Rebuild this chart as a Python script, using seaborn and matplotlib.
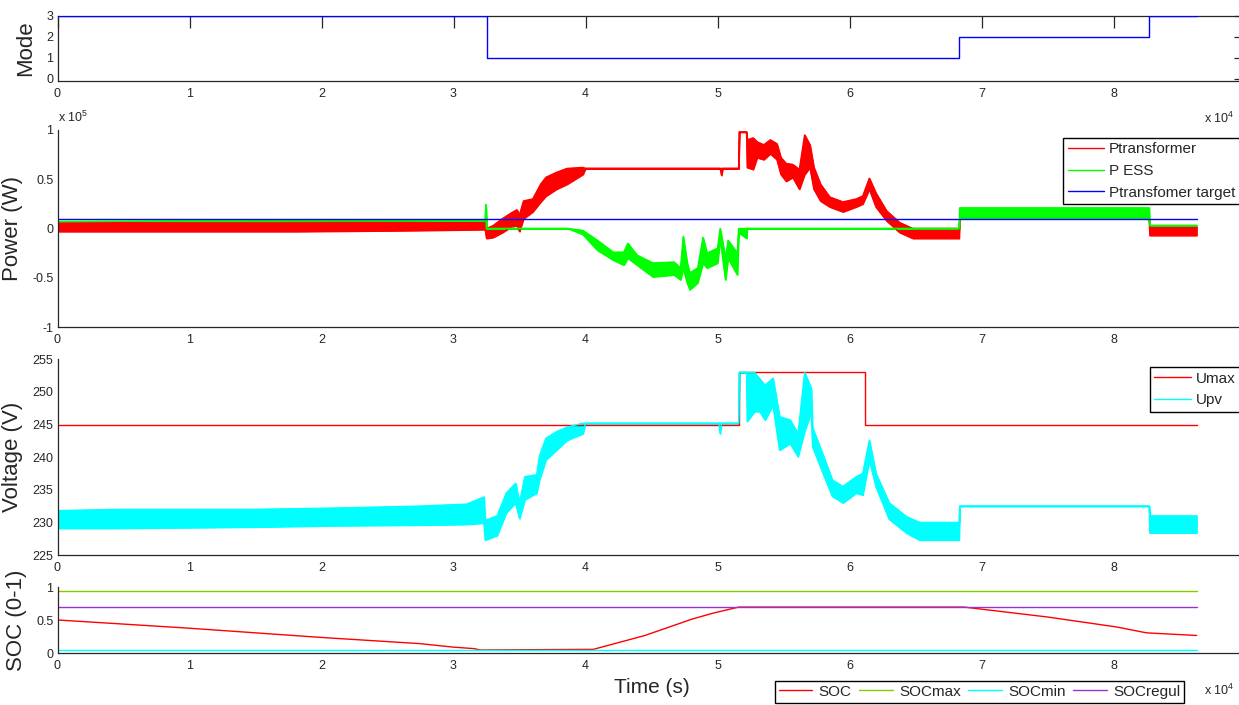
import matplotlib
matplotlib.use("Agg")
import matplotlib.pyplot as plt
import seaborn as sns

# time axis is in units of 1e4 s
mode_t = [0, 3.25, 3.25, 6.83, 6.83, 8.27, 8.27, 8.63]
mode_val = [3, 3, 1, 1, 2, 2, 3, 3]

# powers in units of 1e5 W, noisy signals given as lower/upper envelope
ptr_t = [0.00, 0.82, 1.82, 2.70, 3.24, 3.25, 3.30, 3.37, 3.44, 3.48, 3.50, 3.53,
         3.60, 3.66, 3.70, 3.78, 3.86, 3.98, 4.00, 5.02, 5.03, 5.04, 5.16, 5.165,
         5.22, 5.225, 5.27, 5.30, 5.35, 5.40, 5.45, 5.48, 5.52, 5.57, 5.62, 5.66,
         5.70, 5.73, 5.78, 5.85, 5.95, 6.05, 6.10, 6.15, 6.20, 6.28, 6.38, 6.48,
         6.83, 6.835, 8.27, 8.275, 8.63]
ptr_lo = [-0.03, -0.03, -0.03, -0.02, -0.01, -0.10, -0.09, -0.04, 0.02, 0.03, -0.03, 0.10,
          0.17, 0.27, 0.33, 0.40, 0.45, 0.55, 0.61, 0.61, 0.54, 0.61, 0.61, 0.98,
          0.98, 0.62, 0.60, 0.72, 0.70, 0.76, 0.70, 0.55, 0.48, 0.52, 0.40, 0.55,
          0.62, 0.40, 0.28, 0.22, 0.17, 0.22, 0.25, 0.40, 0.22, 0.08, -0.04, -0.10,
          -0.10, 0.10, 0.10, -0.07, -0.07]
ptr_hi = [0.06, 0.065, 0.07, 0.08, 0.09, 0.00, 0.03, 0.10, 0.16, 0.19, 0.14, 0.28,
          0.30, 0.45, 0.52, 0.57, 0.61, 0.62, 0.61, 0.61, 0.61, 0.61, 0.61, 0.98,
          0.98, 0.90, 0.92, 0.88, 0.85, 0.90, 0.86, 0.72, 0.66, 0.65, 0.60, 0.95,
          0.85, 0.62, 0.45, 0.32, 0.27, 0.30, 0.33, 0.51, 0.36, 0.18, 0.06, 0.00,
          0.00, 0.10, 0.10, 0.03, 0.03]

pess_t = [0.00, 0.82, 3.24, 3.245, 3.25, 3.87, 3.98, 4.09, 4.21, 4.29, 4.32, 4.39,
          4.51, 4.67, 4.72, 4.74, 4.77, 4.79, 4.85, 4.89, 4.92, 5.00, 5.02, 5.06,
          5.08, 5.15, 5.16, 5.22, 5.225, 6.83, 6.835, 8.27, 8.275, 8.63]
pess_lo = [0.07, 0.075, 0.08, 0.24, 0.00, 0.00, -0.06, -0.22, -0.32, -0.37, -0.30, -0.37,
           -0.49, -0.47, -0.52, -0.40, -0.55, -0.62, -0.55, -0.35, -0.40, -0.35, -0.10, -0.52,
           -0.30, -0.47, -0.04, -0.10, 0.00, 0.00, 0.10, 0.10, 0.03, 0.03]
pess_hi = [0.07, 0.075, 0.08, 0.24, 0.00, 0.00, -0.02, -0.12, -0.24, -0.24, -0.15, -0.27,
           -0.35, -0.34, -0.40, -0.08, -0.35, -0.45, -0.40, -0.09, -0.25, -0.20, 0.00, -0.30,
           -0.12, -0.25, 0.00, 0.00, 0.00, 0.00, 0.21, 0.21, 0.03, 0.03]

ptarget_t = [0, 8.63]
ptarget = [0.10, 0.10]

# voltages in V
umax_t = [0, 5.16, 5.16, 6.12, 6.12, 8.63]
umax = [245, 245, 253, 253, 245, 245]

upv_t = [0.00, 0.45, 1.50, 2.10, 2.75, 3.10, 3.23, 3.24, 3.33, 3.40, 3.47, 3.50, 3.54,
         3.63, 3.65, 3.70, 3.78, 3.86, 3.98, 4.00, 5.01, 5.02, 5.03, 5.16, 5.165,
         5.22, 5.225, 5.28, 5.32, 5.36, 5.42, 5.47, 5.55, 5.61, 5.66, 5.71, 5.72,
         5.80, 5.87, 5.95, 6.05, 6.10, 6.15, 6.20, 6.30, 6.43, 6.53, 6.83, 6.835,
         8.27, 8.275, 8.63]
upv_lo = [229.1, 229.1, 229.3, 229.5, 229.6, 229.7, 229.9, 227.3, 228.0, 231.5, 233.0, 230.6, 233.5,
          234.5, 236.5, 239.6, 241.1, 242.6, 243.6, 245.2, 245.2, 243.6, 245.2, 245.2, 253.0,
          253.0, 245.5, 247.0, 247.0, 245.7, 248.0, 241.1, 242.1, 240.1, 244.0, 246.9, 241.6,
          237.5, 234.0, 233.0, 234.5, 234.2, 239.6, 235.5, 230.5, 228.4, 227.3, 227.3, 232.5,
          232.5, 228.4, 228.4]
upv_hi = [231.8, 232.0, 232.0, 232.2, 232.5, 232.8, 233.9, 230.3, 231.0, 234.5, 236.0, 233.0, 237.0,
          237.3, 240.1, 242.9, 243.9, 244.6, 245.2, 245.2, 245.2, 245.2, 245.2, 245.2, 253.0,
          253.0, 253.0, 253.0, 252.0, 251.0, 252.1, 246.2, 245.7, 243.6, 253.0, 250.5, 244.5,
          240.3, 236.5, 235.5, 237.0, 237.5, 242.6, 237.5, 233.0, 230.9, 230.0, 230.0, 232.5,
          232.5, 231.0, 231.0]

# state of charge (0-1)
soc_t = [0, 1.0, 2.0, 2.75, 2.99, 3.16, 3.20, 4.06, 4.45, 4.81, 4.97, 5.16,
         6.87, 7.50, 8.02, 8.25, 8.63]
soc = [0.505, 0.38, 0.24, 0.146, 0.095, 0.07, 0.05, 0.06, 0.27, 0.52, 0.61, 0.70,
       0.70, 0.55, 0.40, 0.31, 0.27]
soc_lim_t = [0, 8.63]
soc_max = [0.95, 0.95]
soc_min = [0.05, 0.05]
soc_regul = [0.70, 0.70]

sns.set_theme(style="white")
plt.rcParams["font.family"] = ["Liberation Sans", "DejaVu Sans"]
plt.rcParams["mathtext.default"] = "regular"

INK = "#262626"
fig = plt.figure(figsize=(12.39, 7.05), dpi=100)


def add_panel(top_px, bottom_px):
    return fig.add_axes([57.5 / 1239, 1 - bottom_px / 705, 1188 / 1239,
                         (bottom_px - top_px) / 705])


def style(ax, box=False):
    ax.set_xlim(0, 9)
    ax.set_xticks(range(0, 9))
    for s in ax.spines.values():
        s.set_color(INK)
        s.set_linewidth(0.9)
    ax.tick_params(direction="in", length=8.5, width=0.9, labelsize=9,
                   colors=INK, top=box, right=box)
    ax.tick_params(axis="x", pad=5)
    ax.tick_params(axis="y", pad=3)
    if not box:
        sns.despine(ax=ax)


def line(ax, t, y, color, label=None, lw=1.0, z=2):
    sns.lineplot(x=t, y=y, ax=ax, color=color, lw=lw, estimator=None,
                 sort=False, label=label, legend=False, zorder=z)


def band(ax, t, lo, hi, color, label=None):
    ax.fill_between(t, lo, hi, color=color, lw=1.0, edgecolor=color)
    line(ax, t, hi, color, label)
    line(ax, t, lo, color)


def legend_style():
    return dict(frameon=True, fancybox=False, framealpha=1, edgecolor="black",
                fontsize=11, handlelength=2.4, handletextpad=0.3,
                labelspacing=0.5, borderpad=0.3, borderaxespad=0)


# --- Mode ---
ax_mode = add_panel(16, 81)
line(ax_mode, mode_t, mode_val, "#0000ff", z=3)
style(ax_mode, box=True)
ax_mode.set_ylim(-0.1, 3.0)
ax_mode.set_yticks([0, 1, 2, 3])
ax_mode.set_ylabel("Mode", fontsize=16)
ax_mode.yaxis.set_label_coords(-0.018, 0.5)

# --- Power ---
ax_pow = add_panel(130, 327)
band(ax_pow, ptr_t, ptr_lo, ptr_hi, "#ff0000", "Ptransformer")
band(ax_pow, pess_t, pess_lo, pess_hi, "#00ff00", "P ESS")
line(ax_pow, ptarget_t, ptarget, "#0000ff", "Ptransfomer target")
style(ax_pow)
ax_pow.set_ylim(-1, 1)
ax_pow.set_yticks([-1, -0.5, 0, 0.5, 1])
ax_pow.set_yticklabels(["-1", "-0.5", "0", "0.5", "1"])
ax_pow.set_ylabel("Power (W)", fontsize=16)
ax_pow.yaxis.set_label_coords(-0.029, 0.5)
ax_pow.text(0, 1.066, "x 10$^5$", transform=ax_pow.transAxes, fontsize=9,
            color=INK, ha="left", va="center")
h, l = ax_pow.get_legend_handles_labels()
ax_pow.legend(h, l, loc="upper right", bbox_to_anchor=(0.9954, 0.96),
              **legend_style())

# --- Voltage ---
ax_volt = add_panel(359.3, 555)
line(ax_volt, umax_t, umax, "#ff0000", "Umax")
band(ax_volt, upv_t, upv_lo, upv_hi, "#00ffff", "Upv")
style(ax_volt)
ax_volt.set_ylim(225, 255)
ax_volt.set_yticks(range(225, 256, 5))
ax_volt.set_ylabel("Voltage (V)", fontsize=16)
ax_volt.yaxis.set_label_coords(-0.029, 0.5)
h, l = ax_volt.get_legend_handles_labels()
ax_volt.legend(h, l, loc="upper right", bbox_to_anchor=(0.9954, 0.96),
               **legend_style())

# --- SOC ---
ax_soc = add_panel(587.3, 653.3)
line(ax_soc, soc_t, soc, "#ff0000", "SOC")
line(ax_soc, soc_lim_t, soc_max, "#80cc00", "SOCmax")
line(ax_soc, soc_lim_t, soc_min, "#00ffff", "SOCmin")
line(ax_soc, soc_lim_t, soc_regul, "#9932cc", "SOCregul")
style(ax_soc)
ax_soc.set_ylim(0, 1)
ax_soc.set_yticks([0, 0.5, 1])
ax_soc.set_yticklabels(["0", "0.5", "1"])
ax_soc.set_ylabel("SOC (0-1)", fontsize=16)
ax_soc.yaxis.set_label_coords(-0.0257, 0.5)
ax_soc.set_xlabel("Time (s)", fontsize=15)
h, l = ax_soc.get_legend_handles_labels()
leg_kw = legend_style()
leg_kw.update(handlelength=2.2, handletextpad=0.4, borderpad=0.25)
fig.legend(h, l, loc="upper left", bbox_to_anchor=(775 / 1239, 1 - 681 / 705),
           ncol=4, columnspacing=0.5, **leg_kw)

for y_px in (118, 690):
    fig.text(1234 / 1239, 1 - y_px / 705, "x 10$^4$", fontsize=9, color=INK,
             ha="right", va="center")

fig.savefig("out.png", dpi=100)
